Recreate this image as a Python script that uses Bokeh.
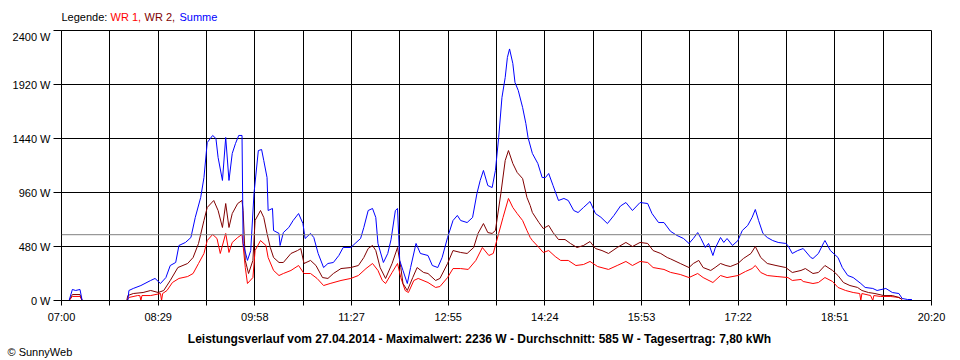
from bokeh.plotting import figure
from bokeh.layouts import column
from bokeh.models import (Range1d, FixedTicker, CustomJSTickFormatter, PrintfTickFormatter,
                          Span, Label)
from bokeh.embed import file_html
from bokeh.resources import INLINE

# ---------------- data ----------------
tick_labels = ["07:00", "08:29", "09:58", "11:27", "12:55", "14:24", "15:53", "17:22", "18:51", "20:20"]
y_ticks = [0, 480, 960, 1440, 1920, 2400]
average_w = 585

summe_t = ["07:00", "07:07", "07:10", "07:13", "07:17", "07:19", "07:21", "07:35", "07:51", "08:01",
           "08:02", "08:06", "08:13", "08:22", "08:26", "08:31", "08:36", "08:40", "08:45", "08:48",
           "08:54", "08:59", "09:03", "09:08", "09:11", "09:14", "09:19", "09:22", "09:24", "09:28",
           "09:31", "09:34", "09:37", "09:40", "09:43", "09:46", "09:47", "09:51", "09:54", "09:57",
           "10:01", "10:04", "10:06", "10:09", "10:10", "10:14", "10:15", "10:20", "10:21", "10:24",
           "10:29", "10:33", "10:38", "10:42", "10:44", "10:49", "10:52", "10:56", "11:01", "11:05",
           "11:10", "11:15", "11:19", "11:26", "11:30", "11:35", "11:38", "11:42", "11:46", "11:49",
           "11:51", "11:56", "12:00", "12:03", "12:07", "12:09", "12:11", "12:14", "12:18", "12:21",
           "12:26", "12:30", "12:37", "12:41", "12:46", "12:50", "12:55", "13:00", "13:04", "13:07",
           "13:13", "13:18", "13:22", "13:25", "13:28", "13:32", "13:36", "13:39", "13:42", "13:45",
           "13:48", "13:50", "13:52", "13:55", "13:57", "14:00", "14:04", "14:07", "14:09", "14:13",
           "14:18", "14:22", "14:25", "14:28", "14:32", "14:37", "14:42", "14:46", "14:51", "14:55",
           "15:00", "15:06", "15:11", "15:16", "15:22", "15:28", "15:34", "15:39", "15:45", "15:52",
           "15:59", "16:03", "16:09", "16:14", "16:20", "16:26", "16:32", "16:37", "16:41", "16:45",
           "16:48", "16:52", "16:55", "16:59", "17:01", "17:06", "17:09", "17:12", "17:17", "17:22",
           "17:26", "17:31", "17:35", "17:38", "17:41", "17:45", "17:49", "17:54", "17:59", "18:06",
           "18:08", "18:12", "18:17", "18:22", "18:29", "18:31", "18:36", "18:41", "18:42", "18:47",
           "18:54", "18:58", "19:03", "19:08", "19:15", "19:19", "19:26", "19:30", "19:38", "19:44",
           "19:50", "19:53", "19:58", "20:02"]
summe_w = [0, 0, 98, 89, 98, 0, 0, None, 0, 0,
           89, 107, 133, 178, 196, 151, 204, 311, 338, 489,
           516, 560, 738, 916, 1093, 1404, 1467, 1440, 1271, 1067,
           1449, 1067, 1307, 1396, 1467, 1467, 507, 356, 444, 951,
           1333, 1342, 1244, 1093, 800, 818, 622, 596, 489, 604,
           649, 711, 773, 684, 551, 596, 560, 418, 293, 329,
           338, 400, 471, 471, 507, 551, 649, 800, 818, 738,
           507, 338, 418, 540, 800, 818, 356, 267, 151, 293,
           507, 418, 400, 311, 293, 382, 560, 711, 756, 711,
           693, 738, 951, 1067, 1156, 1022, 1004, 1156, 1449, 1804,
           1982, 2160, 2236, 2107, 1938, 1867, 1716, 1573, 1449, 1307,
           1218, 1093, 1093, 1129, 1022, 889, 907, 889, 800, 782,
           827, 880, 773, 740, 684, 756, 840, 871, 800, 871,
           862, 773, 693, 693, 615, 578, 551, 507, 551, 604,
           551, 471, 507, 400, 462, 560, 516, 551, 489, 533,
           622, 667, 738, 809, 711, 596, 560, 533, 516, 507,
           489, 418, 444, 462, 382, 373, 418, 516, 533, 444,
           382, 293, 222, 204, 151, 116, 107, 89, 107, 71,
           62, 18, 9, 9]

wr2_t = ["07:07", "07:10", "07:17", "07:19", "07:21", "07:35", "08:00", "08:01", "08:06", "08:15",
         "08:22", "08:29", "08:34", "08:40", "08:47", "08:56", "09:01", "09:06", "09:11", "09:14",
         "09:20", "09:24", "09:28", "09:31", "09:34", "09:37", "09:42", "09:46", "09:47", "09:49",
         "09:52", "09:56", "09:58", "10:03", "10:06", "10:09", "10:12", "10:15", "10:20", "10:24",
         "10:31", "10:37", "10:40", "10:43", "10:49", "10:54", "11:00", "11:05", "11:10", "11:17",
         "11:26", "11:33", "11:38", "11:42", "11:46", "11:49", "11:53", "11:58", "12:04", "12:09",
         "12:12", "12:14", "12:18", "12:23", "12:27", "12:33", "12:37", "12:44", "12:48", "12:55",
         "13:00", "13:07", "13:13", "13:19", "13:23", "13:28", "13:32", "13:36", "13:39", "13:44",
         "13:48", "13:51", "13:55", "13:59", "14:04", "14:08", "14:11", "14:13", "14:19", "14:23",
         "14:28", "14:32", "14:37", "14:43", "14:48", "14:54", "15:00", "15:06", "15:11", "15:17",
         "15:23", "15:31", "15:39", "15:45", "15:52", "15:59", "16:04", "16:11", "16:17", "16:20",
         "16:29", "16:37", "16:41", "16:46", "16:50", "16:57", "17:01", "17:06", "17:11", "17:15",
         "17:22", "17:27", "17:34", "17:38", "17:43", "17:49", "17:57", "18:06", "18:12", "18:20",
         "18:24", "18:31", "18:36", "18:42", "18:49", "18:54", "18:59", "19:05", "19:12", "19:16",
         "19:22", "19:28", "19:36", "19:44", "19:50", "19:53"]
wr2_w = [0, 53, 53, 0, 0, None, 0, 44, 62, 71,
         89, 71, 89, 178, 293, 329, 382, 507, 711, 827,
         889, 800, 649, 862, 649, 773, 862, 889, 800, 356,
         240, 356, 711, 800, 738, 596, 471, 382, 338, 338,
         418, 444, 462, 329, 356, 311, 204, 196, 240, 284,
         293, 311, 382, 462, 489, 444, 293, 196, 329, 471,
         293, 151, 89, 204, 293, 249, 240, 178, 196, 329,
         444, 427, 418, 471, 596, 684, 604, 596, 622, 951,
         1244, 1333, 1218, 1138, 1084, 916, 844, 782, 693, 640,
         667, 604, 542, 542, 507, 471, 489, 524, 462, 444,
         418, 471, 516, 480, 516, 507, 444, 418, 382, 370,
         329, 293, 329, 356, 293, 267, 293, 329, 311, 302,
         329, 373, 418, 480, 382, 329, 311, 293, 249, 267,
         284, 240, 249, 311, 267, 222, 160, 133, 116, 89,
         71, 62, 44, 44, 27, 9]

wr1_t = ["07:07", "07:10", "07:17", "07:19", "07:21", "07:35", "08:00", "08:02", "08:10", "08:12",
         "08:13", "08:14", "08:22", "08:31", "08:32", "08:33", "08:37", "08:42", "08:48", "08:56",
         "09:01", "09:06", "09:11", "09:14", "09:19", "09:23", "09:26", "09:31", "09:34", "09:37",
         "09:42", "09:46", "09:49", "09:51", "09:56", "09:58", "10:03", "10:08", "10:10", "10:15",
         "10:20", "10:24", "10:31", "10:38", "10:43", "10:49", "10:55", "11:01", "11:07", "11:17",
         "11:26", "11:33", "11:40", "11:46", "11:51", "11:55", "11:58", "12:04", "12:09", "12:12",
         "12:16", "12:19", "12:24", "12:28", "12:37", "12:44", "12:48", "12:55", "13:00", "13:07",
         "13:14", "13:21", "13:27", "13:33", "13:37", "13:42", "13:46", "13:51", "13:55", "13:59",
         "14:04", "14:08", "14:11", "14:13", "14:19", "14:23", "14:28", "14:34", "14:39", "14:46",
         "14:53", "15:00", "15:06", "15:13", "15:23", "15:31", "15:39", "15:45", "15:52", "15:59",
         "16:04", "16:14", "16:20", "16:29", "16:37", "16:45", "16:50", "16:59", "17:06", "17:12",
         "17:22", "17:29", "17:35", "17:38", "17:43", "17:49", "17:58", "18:08", "18:12", "18:20",
         "18:22", "18:31", "18:36", "18:42", "18:49", "18:54", "19:01", "19:08", "19:14", "19:15",
         "19:16", "19:24", "19:26", "19:27", "19:33", "19:42", "19:50", "19:53"]
wr1_w = [0, 36, 36, 0, 0, None, 0, 27, 44, 44,
         0, 44, 44, 62, 0, 62, 89, 160, 196, 213,
         240, 329, 418, 533, 587, 551, 418, 596, 427, 516,
         560, 587, 293, 151, 204, 444, 533, 489, 382, 267,
         222, 240, 267, 311, 240, 240, 196, 133, 151, 178,
         196, 222, 284, 329, 267, 178, 151, 249, 329, 204,
         89, 71, 178, 196, 160, 116, 124, 204, 284, 284,
         276, 356, 471, 400, 418, 596, 738, 907, 827, 773,
         711, 622, 560, 533, 471, 427, 444, 391, 356, 356,
         311, 320, 347, 302, 276, 311, 347, 311, 347, 338,
         293, 276, 250, 231, 204, 240, 204, 160, 222, 204,
         222, 258, 284, 311, 249, 222, 213, 204, 178, 187,
         169, 151, 160, 204, 169, 116, 89, 71, 62, 0,
         62, 44, 0, 44, 36, 36, 27, 9]

legend_texts = ["Legende:", "WR 1,", "WR 2,", "Summe"]
legend_colors = ["black", "#ff0000", "#800000", "#0000ff"]
title_text = ("Leistungsverlauf vom 27.04.2014 - Maximalwert: 2236 W - Durchschnitt: 585 W"
              " - Tagesertrag: 7,80 kWh")
credit_text = "\u00a9 SunnyWeb"


def to_min(hhmm):
    h, m = hhmm.split(":")
    return int(h) * 60 + int(m) - 7 * 60


def prep(ts, ws):
    return [to_min(t) for t in ts], [float("nan") if w is None else w for w in ws]


FONT = "Liberation Sans"
x_end = to_min(tick_labels[-1])
n_int = len(tick_labels) - 1
major = [i * x_end / n_int for i in range(n_int + 1)]
minor = [(i + 0.5) * x_end / n_int for i in range(n_int)]

# ---------------- legend strip (its frame is aligned with the chart frame) ----------------
leg = figure(output_backend="svg", toolbar_location=None, width=960, height=30,
             x_range=Range1d(0, 960), y_range=Range1d(0, 30),
             min_border=0, title=None)
leg.axis.visible = False
leg.grid.visible = False
leg.outline_line_color = None
leg_x = [0, 49, 83, 118]
for txt, col, lx in zip(legend_texts, legend_colors, leg_x):
    leg.add_layout(Label(x=lx, y=14, x_units="screen", y_units="screen", text=txt,
                         text_color=col, text_font=FONT, text_font_size="11px",
                         text_baseline="middle", text_align="left"))

# ---------------- main chart ----------------
p = figure(output_backend="svg", toolbar_location=None, title=None,
           frame_width=870, frame_height=270,
           min_border_left=61, min_border_right=29, min_border_top=0, min_border_bottom=60,
           x_range=Range1d(0, x_end), y_range=Range1d(0, y_ticks[-1]))
p.outline_line_color = "black"

p.xaxis.ticker = FixedTicker(ticks=major, minor_ticks=minor)
p.yaxis.ticker = FixedTicker(ticks=y_ticks, minor_ticks=[])
p.xgrid.grid_line_color = "black"
p.xgrid.minor_grid_line_color = "black"
p.ygrid.grid_line_color = "black"

for ax in (p.xaxis[0], p.yaxis[0]):
    ax.axis_line_color = "black"
    ax.major_tick_line_color = "black"
    ax.major_tick_in = 0
    ax.major_label_text_font = FONT
    ax.major_label_text_font_size = "11px"
    ax.major_label_text_color = "black"
p.xaxis.major_tick_out = 5
p.xaxis.minor_tick_out = 5
p.xaxis.minor_tick_in = 0
p.xaxis.minor_tick_line_color = "black"
p.xaxis.major_label_standoff = 5
p.xaxis.formatter = CustomJSTickFormatter(args=dict(labels=tick_labels), code="return labels[index];")
p.yaxis.major_tick_out = 8
p.yaxis.minor_tick_line_color = None
p.yaxis.major_label_standoff = 3
p.yaxis.formatter = PrintfTickFormatter(format="%d W")

p.add_layout(Span(location=average_w, dimension="width", line_color="#808080", line_width=1))

for ts, ws, col in ((wr1_t, wr1_w, "#ff0000"), (wr2_t, wr2_w, "#800000"), (summe_t, summe_w, "#0000ff")):
    xs, ys = prep(ts, ws)
    p.line(xs, ys, line_color=col, line_width=1)

p.add_layout(Label(x=418, y=1, x_units="screen", y_units="screen", text=title_text,
                   text_color="black", text_font=FONT, text_font_size="12px", text_font_style="bold",
                   text_baseline="middle", text_align="center"), "below")
p.add_layout(Label(x=-54, y=0, x_units="screen", y_units="screen", text=credit_text,
                   text_color="black", text_font=FONT, text_font_size="11px",
                   text_baseline="middle", text_align="left"), "below")

layout = column(leg, p, spacing=0)
open("out.html", "w").write(file_html(layout, INLINE))
